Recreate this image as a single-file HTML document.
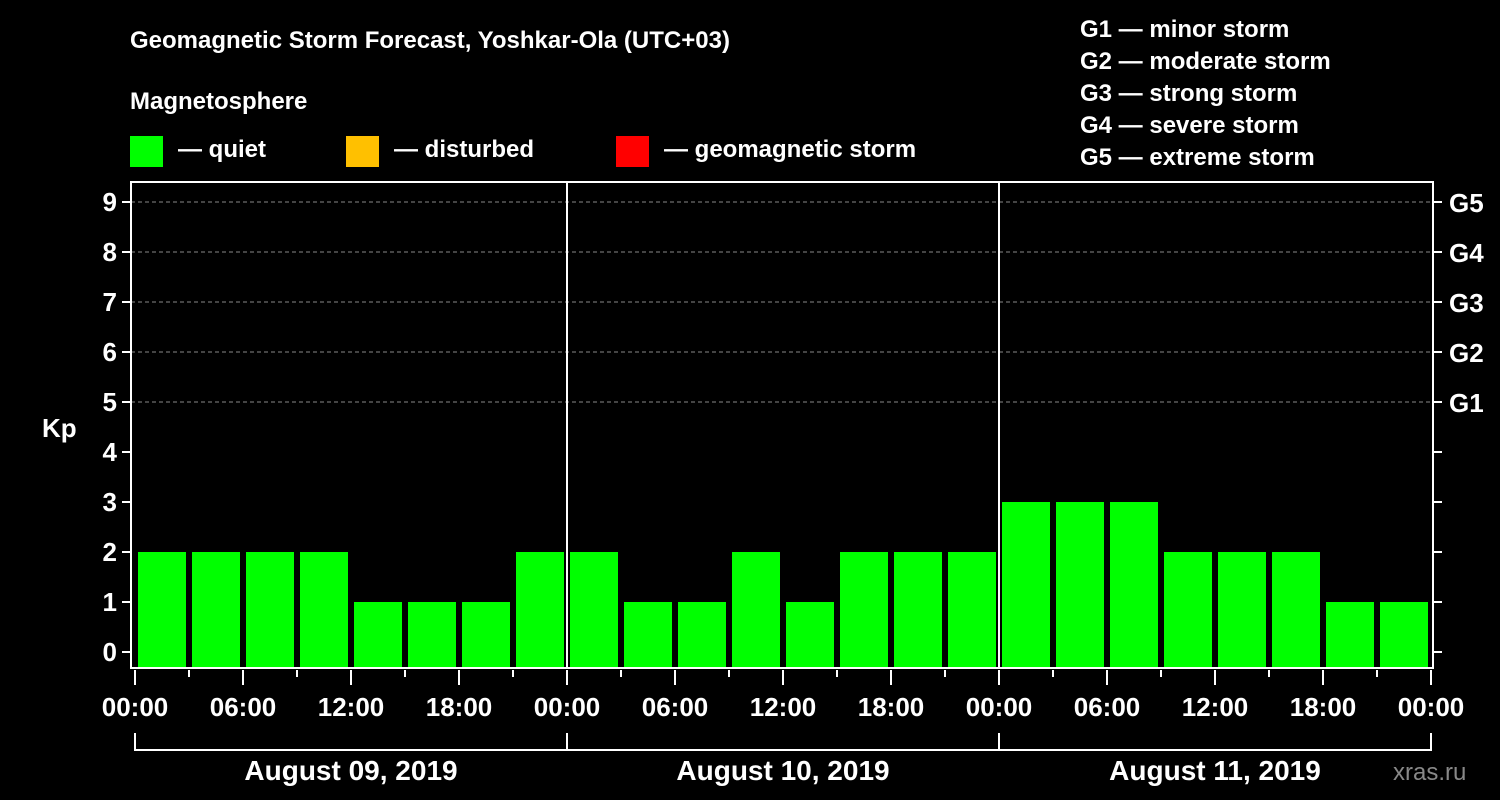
<!DOCTYPE html>
<html><head><meta charset="utf-8"><style>
body{margin:0;background:#000;}
svg{display:block;font-family:"Liberation Sans",Arial,sans-serif;font-weight:bold;}
</style></head><body>
<svg id="c" width="1500" height="800" xmlns="http://www.w3.org/2000/svg">
<rect width="1500" height="800" fill="#000"/>
<text x="130" y="48" font-size="24" fill="#fff">Geomagnetic Storm Forecast, Yoshkar-Ola (UTC+03)</text>
<text x="130" y="109" font-size="24" fill="#fff">Magnetosphere</text>
<g><rect x="130" y="136" width="33" height="31" fill="#00ff00"/><text x="178" y="157" font-size="24" fill="#fff">— quiet</text></g>
<g><rect x="346" y="136" width="33" height="31" fill="#ffc000"/><text x="394" y="157" font-size="24" fill="#fff">— disturbed</text></g>
<g><rect x="616" y="136" width="33" height="31" fill="#ff0000"/><text x="664" y="157" font-size="24" fill="#fff">— geomagnetic storm</text></g>
<g font-size="24" fill="#fff">
<text x="1080" y="37">G1 — minor storm</text>
<text x="1080" y="69">G2 — moderate storm</text>
<text x="1080" y="101">G3 — strong storm</text>
<text x="1080" y="133">G4 — severe storm</text>
<text x="1080" y="165">G5 — extreme storm</text>
</g>
<text x="42" y="437" font-size="26" fill="#fff">Kp</text>
<text x="1393" y="780" font-size="24" fill="#888" font-weight="normal">xras.ru</text>
<g id="plot"></g>
</svg>
<script>
const days = ["August 09, 2019","August 10, 2019","August 11, 2019"];
const kpValues = [2,2,2,2,1,1,1,2, 2,1,1,2,1,2,2,2, 3,3,3,2,2,2,1,1];
const yTicks = [0,1,2,3,4,5,6,7,8,9];
const gLabels = ["G1","G2","G3","G4","G5"];
const timeLabels = ["00:00","06:00","12:00","18:00"];

const NS="http://www.w3.org/2000/svg";
const g=document.getElementById('plot');
const L=131,R=1433,T=182,B=668,X0=135,dayW=432;
const y=v=>652-50*v;
const x=h=>X0+h*(dayW/24);
function mk(tag,a,parent){const e=document.createElementNS(NS,tag);for(const k in a)e.setAttribute(k,a[k]);(parent||g).appendChild(e);return e;}

yTicks.forEach(v=>{
  if(v>=5){const l=mk('line',{x1:L,x2:R,y1:y(v),y2:y(v),stroke:'#888','stroke-dasharray':'4,3','stroke-width':1});
  
  }
  const t=mk('line',{x1:L-9,x2:L,y1:y(v),y2:y(v),stroke:'#fff','stroke-width':2});
  
  
  const t2=mk('line',{x1:R,x2:R+9,y1:y(v),y2:y(v),stroke:'#fff','stroke-width':2});
  
  
  const tx=mk('text',{x:L-14,y:y(v)+9,'text-anchor':'end','font-size':26,fill:'#fff'});
  tx.textContent=v;
  
  
});
gLabels.forEach((s,i)=>{
  const tx=mk('text',{x:R+16,y:y(5+i)+10,'font-size':26,fill:'#fff'});
  tx.textContent=s;
  
  
});
kpValues.forEach((v,i)=>{
  const h0=i*3;
  const r=mk('rect',{x:x(h0)+3,y:y(v),width:48,height:B-y(v),fill:v>=5?'#ff0000':(v>=4?'#ffc000':'#00ff00')});
  
  
});
const frame=mk('rect',{x:L,y:T,width:R-L,height:B-T,fill:'none',stroke:'#fff','stroke-width':2});


for(let d=1;d<days.length;d++){
  const l=mk('line',{x1:x(24*d),x2:x(24*d),y1:T,y2:B,stroke:'#fff','stroke-width':2});
  
  
}
for(let h=0;h<=24*days.length;h+=3){
  const major=h%6===0;
  const l=mk('line',{x1:x(h),x2:x(h),y1:B+2,y2:major?B+17:B+9,stroke:'#fff','stroke-width':2});
  
  
  if(major){
    const tx=mk('text',{x:x(h),y:716,'text-anchor':'middle','font-size':26,fill:'#fff'});
    tx.textContent=timeLabels[(h/6)%4];
    
    
  }
}
days.forEach((d,i)=>{
  const a=x(24*i),b=x(24*(i+1));
  const p=mk('path',{d:`M${a} 733V750H${b}`+(i===days.length-1?`V733`:''),stroke:'#fff','stroke-width':2,fill:'none'});
  
  
  const tx=mk('text',{x:(a+b)/2,y:780,'text-anchor':'middle','font-size':28,fill:'#fff'});
  tx.textContent=d;
  
  
});
</script>
</body></html>
